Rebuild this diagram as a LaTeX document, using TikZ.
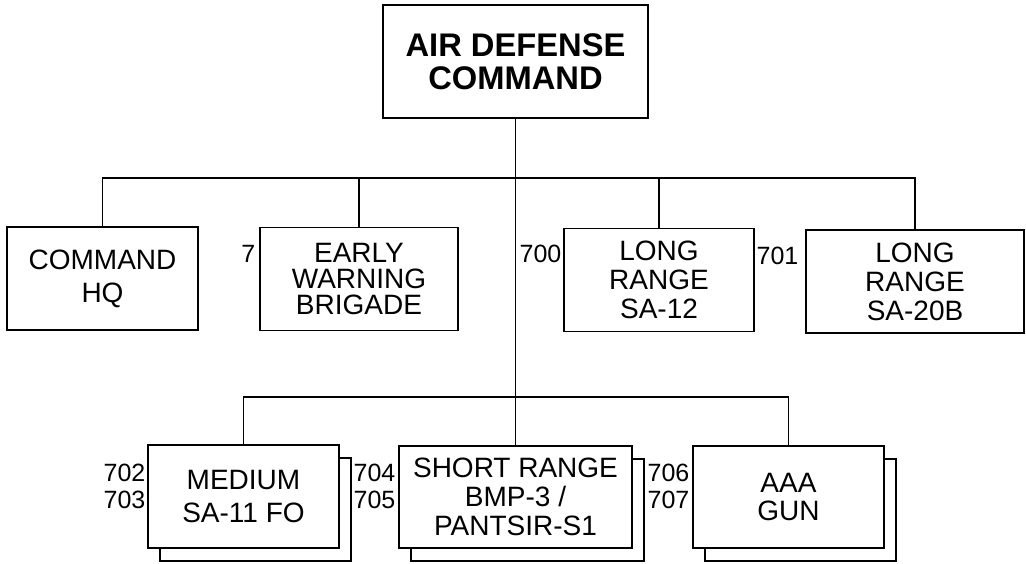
\documentclass[tikz,border=0pt]{standalone}
\usepackage{fontspec}
\setmainfont{Liberation Sans}
\usetikzlibrary{shadows}
\begin{document}
\begin{tikzpicture}
[x=1pt, y=-1pt, line width=1.3pt, font=\fontsize{28}{29}\selectfont]
\tikzstyle{unit}=[rectangle, draw, fill=white, align=center, inner sep=0pt, minimum width=191pt, minimum height=103pt]
\tikzstyle{stack}=[unit, copy shadow={shadow xshift=12pt, shadow yshift=-13pt, draw=black, fill=white, line width=1.3pt}]
\tikzstyle{num}=[inner sep=0pt, align=right, anchor=east, font=\fontsize{25}{27}\selectfont]
\useasboundingbox (0,0) rectangle (1026,564);

\node[unit, minimum width=265pt, minimum height=113pt, font=\fontsize{32.7}{33}\selectfont\bfseries]	(ADC)	at (515.5,61.5)	{AIR DEFENSE\\COMMAND};

\node[unit, font=\fontsize{28}{33}\selectfont]	(HQ)	at (102.5,278.5)	{COMMAND\\HQ};
\node[unit, minimum width=198pt, font=\fontsize{28}{26}\selectfont]	(EW)	at (359,279)	{EARLY\\WARNING\\BRIGADE};
\node[unit, minimum width=190pt]	(LR12)	at (659,280)	{LONG\\RANGE\\SA-12};
\node[unit, minimum width=218pt]	(LR20B)	at (915,281.5)	{LONG\\RANGE\\SA-20B};

\node[stack, font=\fontsize{28}{33}\selectfont]	(MED)	at (243.5,496.5)	{MEDIUM\\SA-11 FO};
\node[stack, minimum width=233pt, minimum height=102pt]	(SR)	at (515.5,497)	{SHORT RANGE\\BMP-3 /\\PANTSIR-S1};
\node[stack, minimum height=102pt, font=\fontsize{28}{28}\selectfont]	(AAA)	at (788.5,497)	{AAA\\GUN};

\node[num]	(N7)	at (256,254)	{7};
\node[num]	(N700)	at (562,254)	{700};
\node[num]	(N701)	at (799,256)	{701};
\node[num]	(N702)	at (146,486)	{702\\703};
\node[num]	(N704)	at (396,486)	{704\\705};
\node[num]	(N706)	at (690,486)	{706\\707};

\coordinate (topbus) at (515.5,178);
\coordinate (lowbus) at (515.5,397);

\draw (ADC.south)--(SR.north);
\draw (HQ.north) |- (topbus) -| (LR20B.north);
\draw (EW.north)--(EW.north |- topbus);
\draw (LR12.north)--(LR12.north |- topbus);
\draw (MED.north) |- (lowbus) -| (AAA.north);

\end{tikzpicture}
\end{document}
